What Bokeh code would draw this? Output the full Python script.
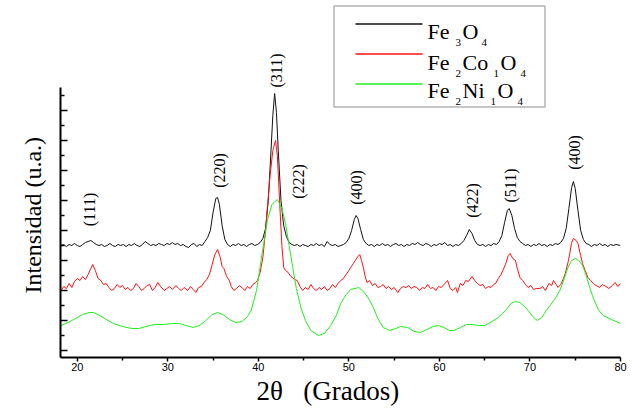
import math
from bokeh.plotting import figure
from bokeh.models import Range1d, FixedTicker, Label, BoxAnnotation, CustomJSTickFormatter, Title
from bokeh.core.properties import value
from bokeh.embed import file_html
from bokeh.resources import INLINE

# ---------------- data (2theta in degrees, intensity in arbitrary units) ----------------
fe3o4_2theta = [18.2, 18.5, 18.8, 19.1, 19.4, 19.7, 20.0, 20.3, 20.6, 20.9, 21.2, 21.5, 21.8, 22.1, 22.4,
                22.7, 23.0, 23.3, 23.6, 23.9, 24.2, 24.5, 24.8, 25.1, 25.4, 25.7, 26.0, 26.3, 26.6, 26.9,
                27.2, 27.5, 27.8, 28.1, 28.4, 28.7, 29.0, 29.3, 29.6, 29.9, 30.2, 30.5, 30.8, 31.1, 31.4,
                31.7, 32.0, 32.3, 32.6, 32.9, 33.2, 33.5, 33.8, 34.1, 34.4, 34.7, 35.0, 35.3, 35.5, 35.7,
                36.0, 36.3, 36.6, 36.9, 37.2, 37.5, 37.8, 38.1, 38.4, 38.7, 39.0, 39.3, 39.6, 39.9, 40.2,
                40.5, 40.8, 41.1, 41.4, 41.6, 41.8, 42.0, 42.2, 42.5, 42.8, 43.1, 43.4, 43.7, 44.0, 44.3,
                44.6, 44.9, 45.2, 45.5, 45.8, 46.1, 46.4, 46.7, 47.0, 47.3, 47.6, 47.9, 48.2, 48.5, 48.8,
                49.1, 49.4, 49.7, 50.0, 50.3, 50.6, 50.8, 51.0, 51.3, 51.6, 51.9, 52.2, 52.5, 52.8, 53.1,
                53.4, 53.7, 54.0, 54.3, 54.6, 54.9, 55.2, 55.5, 55.8, 56.1, 56.4, 56.7, 57.0, 57.3, 57.6,
                57.9, 58.2, 58.5, 58.8, 59.1, 59.4, 59.7, 60.0, 60.3, 60.6, 60.9, 61.2, 61.5, 61.8, 62.1,
                62.4, 62.7, 63.0, 63.3, 63.6, 63.9, 64.2, 64.5, 64.8, 65.1, 65.4, 65.7, 66.0, 66.3, 66.6,
                66.9, 67.2, 67.5, 67.7, 68.0, 68.3, 68.6, 68.9, 69.2, 69.5, 69.8, 70.1, 70.4, 70.7, 71.0,
                71.3, 71.6, 71.9, 72.2, 72.5, 72.8, 73.1, 73.4, 73.7, 74.0, 74.3, 74.6, 74.8, 75.0, 75.3,
                75.6, 75.9, 76.2, 76.5, 76.8, 77.1, 77.4, 77.7, 78.0, 78.3, 78.6, 78.9, 79.2, 79.5, 80.0]
fe3o4_int = [105, 106, 104, 106, 105, 107, 105, 104, 106, 108, 109, 110, 108, 106, 105,
             106, 104, 105, 107, 105, 104, 106, 105, 106, 104, 106, 105, 107, 105, 104,
             106, 109, 107, 105, 106, 105, 107, 106, 105, 107, 106, 108, 106, 107, 105,
             106, 104, 103, 106, 107, 104, 106, 105, 109, 113, 120, 138, 152, 153, 146,
             125, 111, 106, 104, 106, 105, 107, 105, 106, 104, 106, 107, 105, 106, 108,
             112, 122, 150, 200, 235, 257, 238, 200, 150, 125, 114, 108, 106, 105, 106,
             104, 106, 105, 104, 106, 105, 107, 105, 106, 104, 109, 106, 105, 106, 104,
             105, 106, 108, 112, 120, 131, 135, 132, 121, 111, 107, 105, 106, 104, 106,
             105, 107, 105, 106, 104, 106, 107, 105, 106, 104, 106, 105, 107, 106, 108,
             106, 105, 107, 106, 104, 106, 105, 107, 106, 108, 105, 106, 104, 106, 105,
             107, 110, 115, 121, 117, 110, 106, 105, 106, 104, 106, 105, 107, 106, 109,
             115, 128, 140, 142, 135, 122, 113, 109, 107, 105, 106, 104, 106, 105, 107,
             105, 106, 104, 106, 105, 107, 106, 108, 112, 122, 142, 163, 169, 162, 140,
             120, 111, 107, 106, 104, 106, 105, 107, 105, 106, 104, 106, 105, 106, 105]

fe2co1o4_2theta = [18.2, 18.5, 18.8, 19.1, 19.4, 19.7, 20.0, 20.3, 20.6, 20.9, 21.2, 21.5, 21.7, 22.0, 22.3,
                   22.6, 22.9, 23.2, 23.5, 23.8, 24.1, 24.4, 24.7, 25.0, 25.3, 25.6, 25.9, 26.2, 26.5, 26.8,
                   27.1, 27.4, 27.7, 28.0, 28.3, 28.6, 28.9, 29.2, 29.6, 29.9, 30.2, 30.5, 30.9, 31.2, 31.5,
                   31.8, 32.2, 32.5, 32.8, 33.1, 33.4, 33.7, 34.0, 34.3, 34.6, 34.9, 35.2, 35.5, 35.8, 36.0,
                   36.2, 36.5, 36.8, 37.0, 37.3, 37.6, 37.9, 38.2, 38.5, 38.8, 39.1, 39.4, 39.7, 39.9, 40.2,
                   40.5, 40.8, 41.0, 41.3, 41.6, 41.9, 42.1, 42.4, 42.6, 42.8, 43.0, 43.3, 43.6, 44.0, 44.3,
                   44.6, 44.9, 45.2, 45.5, 45.8, 46.1, 46.4, 46.7, 47.0, 47.3, 47.6, 47.9, 48.2, 48.5, 48.8,
                   49.1, 49.4, 49.7, 50.0, 50.2, 50.5, 50.7, 51.0, 51.2, 51.4, 51.6, 51.8, 52.0, 52.3, 52.6,
                   52.9, 53.2, 53.5, 53.8, 54.1, 54.4, 54.7, 55.0, 55.4, 55.7, 56.0, 56.3, 56.6, 56.9, 57.2,
                   57.5, 57.8, 58.1, 58.4, 58.7, 59.0, 59.3, 59.6, 59.9, 60.2, 60.5, 60.9, 61.2, 61.5, 61.8,
                   62.0, 62.3, 62.6, 62.9, 63.2, 63.6, 63.9, 64.2, 64.5, 64.8, 65.1, 65.4, 65.7, 66.0, 66.2,
                   66.5, 66.8, 67.0, 67.3, 67.6, 67.8, 68.1, 68.4, 68.6, 68.9, 69.2, 69.5, 69.8, 70.1, 70.4,
                   70.7, 71.1, 71.4, 71.7, 72.1, 72.4, 72.6, 72.9, 73.1, 73.4, 73.7, 73.9, 74.2, 74.4, 74.6,
                   74.8, 75.1, 75.3, 75.6, 75.8, 76.1, 76.4, 76.7, 77.0, 77.3, 77.7, 78.0, 78.4, 78.7, 79.1,
                   79.4, 79.7, 80.0]
fe2co1o4_int = [60, 64, 62, 67, 63, 69, 72, 70, 74, 71, 76, 82, 86, 80, 72,
                70, 66, 67, 63, 60, 62, 66, 63, 65, 61, 63, 60, 62, 67, 64,
                60, 62, 65, 66, 60, 63, 68, 64, 60, 62, 64, 61, 65, 62, 60,
                63, 60, 64, 61, 58, 63, 64, 68, 71, 76, 86, 96, 101, 93, 84,
                82, 74, 70, 64, 60, 62, 65, 63, 60, 64, 62, 66, 68, 70, 78,
                93, 120, 143, 175, 200, 210, 195, 140, 105, 83, 80, 78, 74, 71, 70,
                64, 60, 63, 61, 66, 62, 60, 63, 61, 64, 60, 62, 66, 63, 67,
                70, 72, 76, 80, 83, 87, 90, 94, 96, 90, 83, 74, 68, 70, 65,
                67, 63, 64, 66, 62, 64, 61, 63, 58, 62, 64, 63, 65, 62, 64,
                63, 60, 63, 62, 66, 62, 63, 60, 64, 63, 66, 70, 62, 60, 63,
                58, 67, 65, 70, 69, 74, 70, 67, 65, 66, 62, 64, 63, 66, 67,
                72, 76, 80, 86, 95, 97, 92, 90, 82, 73, 70, 66, 63, 65, 61,
                62, 62, 64, 60, 67, 65, 70, 66, 63, 66, 72, 77, 88, 97, 108,
                112, 110, 107, 95, 87, 80, 73, 70, 67, 65, 63, 66, 64, 62, 65,
                68, 64, 67]

fe2ni1o4_2theta = [18.2, 19.0, 19.8, 20.6, 21.3, 21.8, 22.5, 23.2, 24.0, 25.0, 26.0, 26.8, 27.6, 28.5, 29.5,
                   30.5, 31.3, 32.0, 32.8, 33.5, 34.2, 34.9, 35.5, 36.1, 36.8, 37.5, 38.2, 38.8, 39.2, 39.8,
                   40.3, 40.7, 41.0, 41.5, 42.1, 42.6, 43.0, 43.4, 43.8, 44.2, 44.7, 45.2, 45.8, 46.6, 47.3,
                   48.0, 48.6, 49.1, 49.7, 50.2, 51.1, 51.8, 52.3, 52.7, 53.2, 53.8, 54.5, 55.2, 55.7, 56.5,
                   57.2, 57.9, 58.6, 59.3, 59.9, 60.5, 61.1, 61.6, 62.3, 63.0, 63.6, 64.3, 65.0, 65.8, 66.5,
                   67.3, 67.9, 68.4, 68.9, 69.4, 69.8, 70.3, 70.8, 71.3, 71.8, 72.3, 72.8, 73.3, 73.8, 74.2,
                   74.6, 75.0, 75.4, 75.8, 76.1, 76.5, 76.9, 77.2, 77.6, 78.1, 79.0, 80.0]
fe2ni1o4_int = [25, 28, 32, 36, 38, 38, 35, 31, 27, 24, 22, 22, 24, 26, 26,
                27, 27, 25, 23, 25, 30, 36, 38, 36, 31, 28, 29, 34, 40, 60,
                90, 113, 130, 146, 151, 142, 127, 105, 83, 62, 43, 30, 20, 15, 17,
                25, 35, 47, 56, 61, 63, 57, 50, 43, 32, 23, 20, 22, 24, 23,
                19, 18, 21, 24, 25, 23, 20, 20, 23, 26, 26, 25, 25, 29, 33,
                40, 47, 49, 48, 44, 40, 34, 30, 33, 40, 46, 52, 60, 72, 83,
                90, 92, 90, 85, 78, 66, 55, 48, 40, 35, 31, 27]

peak_labels = ["(111)", "(220)", "(311)", "(222)", "(400)", "(422)", "(511)", "(400)"]
peak_2theta = [21.3, 35.7, 42.0, 44.4, 50.8, 63.7, 67.9, 74.9]
peak_label_y = [141, 180, 280, 169, 163, 150, 165, 198]

x_ticks = [20, 30, 40, 50, 60, 70, 80]
x_minor_ticks = [25, 35, 45, 55, 65, 75]
y_ticks = [0, 30, 60, 90, 120, 150, 180, 210, 240]
y_minor_ticks = [15, 45, 75, 105, 135, 165, 195, 225, 255]

# ---------------- figure ----------------
X0, X1 = 18.15, 80.0
Y0, Y1 = -7.0, 350.0
p = figure(width=632, height=406, output_backend="svg", toolbar_location=None,
           x_range=Range1d(X0, X1), y_range=Range1d(Y0, Y1),
           min_border_left=60, min_border_right=12, min_border_top=0, min_border_bottom=49)
p.outline_line_color = None
p.grid.visible = False
p.background_fill_color = "white"
p.border_fill_color = "white"

# helpers mapping picture pixel positions to data coordinates (frame: x 60..620, y 0..357)
def px_to_x(px):
    return X0 + (px - 60) * (X1 - X0) / 560.0

def py_to_y(py):
    return 350.0 - py

SERIF = "Liberation Serif"

# x axis
xa = p.xaxis[0]
xa.ticker = FixedTicker(ticks=x_ticks, minor_ticks=x_minor_ticks)
xa.axis_line_width = 2
xa.axis_line_color = "black"
xa.major_tick_in = 0
xa.major_tick_out = 4
xa.minor_tick_in = 0
xa.minor_tick_out = 3
xa.major_tick_line_width = 1.5
xa.minor_tick_line_width = 1.5
xa.major_label_standoff = 1
xa.major_label_text_font = "Liberation Sans"
xa.major_label_text_font_size = "11px"
xa.major_label_text_color = "black"

# y axis
ya = p.yaxis[0]
ya.ticker = FixedTicker(ticks=y_ticks, minor_ticks=y_minor_ticks)
ya.bounds = (Y0, 263)
ya.axis_line_width = 2
ya.axis_line_color = "black"
ya.major_tick_in = 7
ya.major_tick_out = 0
ya.minor_tick_in = 4
ya.minor_tick_out = 0
ya.major_tick_line_width = 1.5
ya.minor_tick_line_width = 1.5
ya.formatter = CustomJSTickFormatter(code="return ''")

# axis titles
p.add_layout(Title(text="Intensidad (u.a.)", align="left", offset=64, standoff=30,
                   text_font=SERIF, text_font_size="24px", text_font_style="normal",
                   text_color="black"), "left")
p.add_layout(Title(text="2θ\u00a0\u00a0\u00a0(Grados)", align="left", offset=196, standoff=0,
                   text_font=SERIF, text_font_size="27px", text_font_style="normal",
                   text_color="black"), "below")

# data lines
colors = ["#111111", "#ff1010", "#22ee22"]
p.line(fe3o4_2theta, fe3o4_int, line_color=colors[0], line_width=1)
p.line(fe2co1o4_2theta, fe2co1o4_int, line_color=colors[1], line_width=1)
p.line(fe2ni1o4_2theta, fe2ni1o4_int, line_color=colors[2], line_width=1)

# peak labels
p.text(x=peak_2theta, y=peak_label_y, text=peak_labels, angle=math.pi / 2,
       text_align="center", text_baseline="middle", text_font=value(SERIF),
       text_font_size="16px", text_color="black")

# legend (drawn by hand to reproduce the subscript layout)
box = BoxAnnotation(left=px_to_x(333.5), right=px_to_x(544.5), top=py_to_y(5.5), bottom=py_to_y(106.5),
                    fill_color="white", fill_alpha=1.0, line_color="black", line_width=1.5,
                    level="underlay")
p.add_layout(box)

legend_rows = [
    # (line y, baseline y, [(text, left px, is_subscript), ...])
    (23.5, 31, [("Fe", 427, False), ("3", 455, True), ("O", 462, False), ("4", 481, True)]),
    (53.5, 62, [("Fe", 427, False), ("2", 455, True), ("Co", 462, False), ("1", 493, True),
                ("O", 500, False), ("4", 520, True)]),
    (83.5, 90, [("Fe", 427, False), ("2", 455, True), ("Ni", 462, False), ("1", 490, True),
                ("O", 497, False), ("4", 517, True)]),
]
for (ly, by, parts), col in zip(legend_rows, colors):
    p.line([px_to_x(355), px_to_x(422)], [py_to_y(ly), py_to_y(ly)], line_color=col, line_width=1.5)
    for txt, lx, sub in parts:
        p.add_layout(Label(x=px_to_x(lx), y=py_to_y(by + (11 if sub else 0)), text=txt,
                           text_align="left", text_baseline="alphabetic", text_font=SERIF,
                           text_font_size="11px" if sub else "22px", text_color="black"))

open("out.html", "w").write(file_html(p, INLINE))
